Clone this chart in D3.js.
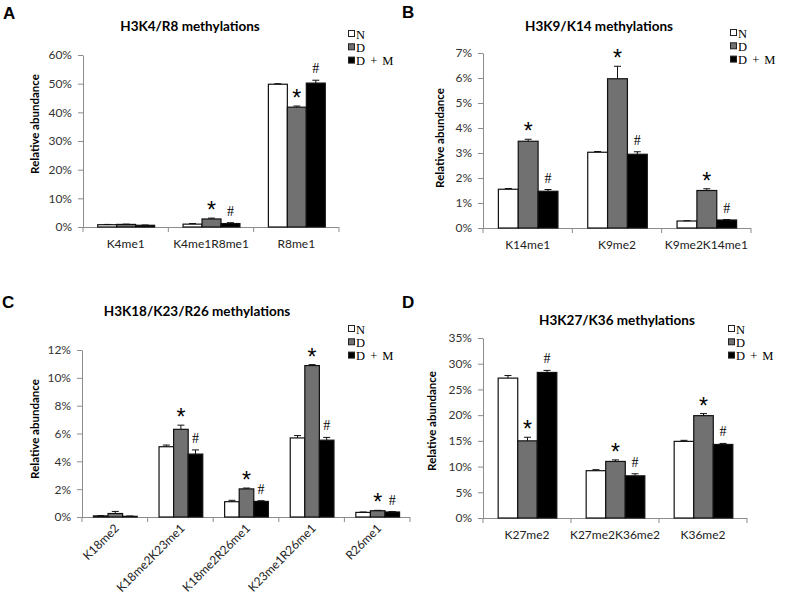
<!DOCTYPE html>
<html>
<head>
<meta charset="utf-8">
<script src="https://cdn.jsdelivr.net/npm/d3@7"></script>
<style>
  html, body { margin: 0; padding: 0; background: #fff; }
  svg { display: block; }
  .tick text { font-family: Lato, "Liberation Sans", sans-serif; font-size: 12px; fill: #333; }
</style>
</head>
<body>
<div id="chart"></div>
<script>
// groups shared by all four panels
const groups = ["N", "D", "D + M"];

// A: H3K4/R8
const catA = ["K4me1", "K4me1R8me1", "R8me1"];
const nA = [0.8, 1.0, 49.8];
const dA = [0.9, 2.8, 41.8];
const dmA = [0.6, 1.2, 50.2];
const nErrA = [0.1, 0.2, 0.2];
const dErrA = [0.1, 0.3, 0.4];
const dmErrA = [0.1, 0.3, 1.0];
const starA = [false, true, true];
const hashA = [false, true, true];
const ticksA = [0, 10, 20, 30, 40, 50, 60];

// B: H3K9/K14
const catB = ["K14me1", "K9me2", "K9me2K14me1"];
const nB = [1.55, 3.03, 0.28];
const dB = [3.47, 5.97, 1.50];
const dmB = [1.47, 2.95, 0.32];
const nErrB = [0.03, 0.03, 0.01];
const dErrB = [0.08, 0.50, 0.07];
const dmErrB = [0.07, 0.10, 0.02];
const starB = [true, true, true];
const hashB = [true, true, true];
const ticksB = [0, 1, 2, 3, 4, 5, 6, 7];

// C: H3K18/K23/R26
const catC = ["K18me2", "K18me2K23me1", "K18me2R26me1", "K23me1R26me1", "R26me1"];
const nC = [0.08, 5.05, 1.10, 5.68, 0.33];
const dC = [0.25, 6.30, 2.02, 10.88, 0.45];
const dmC = [0.05, 4.52, 1.12, 5.52, 0.36];
const nErrC = [0.02, 0.12, 0.10, 0.17, 0.03];
const dErrC = [0.15, 0.30, 0.06, 0.07, 0.03];
const dmErrC = [0.02, 0.30, 0.05, 0.20, 0.03];
const starC = [false, true, true, true, true];
const hashC = [false, true, true, true, true];
const ticksC = [0, 2, 4, 6, 8, 10, 12];

// D: H3K27/K36
const catD = ["K27me2", "K27me2K36me2", "K36me2"];
const nD = [27.2, 9.2, 14.9];
const dD = [15.0, 11.0, 19.9];
const dmD = [28.3, 8.2, 14.3];
const nErrD = [0.5, 0.2, 0.2];
const dErrD = [0.7, 0.3, 0.4];
const dmErrD = [0.4, 0.4, 0.2];
const starD = [true, true, true];
const hashD = [true, true, true];
const ticksD = [0, 5, 10, 15, 20, 25, 30, 35];

const fills = ["#ffffff", "#717171", "#000000"];
const sans = 'Lato, "Liberation Sans", sans-serif';
const serif = '"Liberation Serif", "DejaVu Serif", serif';

// layout for each panel (page pixels)
const panels = [
	{letter: "A", title: "H3K4/R8 methylations", cats: catA, vals: [nA, dA, dmA], errs: [nErrA, dErrA, dmErrA],
	 star: starA, hash: hashA, ticks: ticksA,
	 left: 83, right: 339, top: 55, bottom: 227, lx: 3, ly: 19, tx: 190, ty: 31, ylx: 35, yly: 124,
	 legx: 348, legy: 34, rotate: false},
	{letter: "B", title: "H3K9/K14 methylations", cats: catB, vals: [nB, dB, dmB], errs: [nErrB, dErrB, dmErrB],
	 star: starB, hash: hashB, ticks: ticksB,
	 left: 483, right: 751, top: 53, bottom: 228, lx: 402, ly: 18, tx: 599, ty: 31, ylx: 440, yly: 138,
	 legx: 730, legy: 33, rotate: false},
	{letter: "C", title: "H3K18/K23/R26 methylations", cats: catC, vals: [nC, dC, dmC], errs: [nErrC, dErrC, dmErrC],
	 star: starC, hash: hashC, ticks: ticksC,
	 left: 82, right: 410, top: 350, bottom: 517, lx: 2, ly: 308, tx: 197, ty: 316, ylx: 35, yly: 429,
	 legx: 348, legy: 329, rotate: true},
	{letter: "D", title: "H3K27/K36 methylations", cats: catD, vals: [nD, dD, dmD], errs: [nErrD, dErrD, dmErrD],
	 star: starD, hash: hashD, ticks: ticksD,
	 left: 483, right: 747, top: 338, bottom: 518, lx: 402, ly: 308, tx: 617, ty: 325, ylx: 432, yly: 421,
	 legx: 728, legy: 329, rotate: false}
];

const svg = d3.select("#chart").append("svg")
	.attr("width", 787)
	.attr("height", 597);

panels.forEach(p => {
	const g = svg.append("g");

	const x = d3.scaleBand()
		.domain(p.cats)
		.range([p.left, p.right]);

	const bw = x.bandwidth();
	const xs = d3.scaleBand()
		.domain(groups)
		.range([bw / 6, bw * 5 / 6]);

	const y = d3.scaleLinear()
		.domain([0, d3.max(p.ticks)])
		.range([p.bottom, p.top]);

	// y axis
	const yAxis = g.append("g")
		.attr("transform", `translate(${p.left},0)`)
		.call(d3.axisLeft(y).tickValues(p.ticks).tickFormat(d => d + "%").tickSize(5).tickPadding(6).tickSizeOuter(0));
	yAxis.select(".domain").attr("stroke", "#8c8c8c");
	yAxis.selectAll(".tick line").attr("stroke", "#8c8c8c");

	// x axis: baseline plus ticks at category boundaries
	const bounds = p.cats.map(c => x(c)).concat([p.right]);
	g.append("line")
		.attr("x1", p.left).attr("x2", p.right)
		.attr("y1", p.bottom + 0.5).attr("y2", p.bottom + 0.5)
		.attr("stroke", "#8c8c8c");
	g.selectAll(".xtick")
		.data(bounds)
		.enter()
		.append("line")
		.attr("x1", d => d).attr("x2", d => d)
		.attr("y1", p.bottom).attr("y2", p.bottom + 5)
		.attr("stroke", "#8c8c8c");

	// category labels
	const lab = g.selectAll(".cat")
		.data(p.cats)
		.enter()
		.append("text")
		.style("font-family", sans)
		.attr("fill", "#222")
		.text(d => d);
	if (p.rotate) {
		lab.attr("text-anchor", "end")
			.style("font-size", "12px")
			.attr("transform", d => `translate(${x(d) + bw / 2 + 5},${p.bottom + 12}) rotate(-45)`);
	} else {
		lab.attr("text-anchor", "middle")
			.style("font-size", "12px")
			.attr("x", d => x(d) + bw / 2)
			.attr("y", p.bottom + 21);
	}

	// bars, error bars, marks
	const rows = [];
	p.cats.forEach((c, i) => {
		groups.forEach((s, k) => {
			rows.push({cat: c, grp: s, k: k, v: p.vals[k][i], e: p.errs[k][i],
				mark: k === 1 && p.star[i] ? "*" : (k === 2 && p.hash[i] ? "#" : null)});
		});
	});

	const cell = g.selectAll(".bar")
		.data(rows)
		.enter()
		.append("g")
		.attr("transform", d => `translate(${x(d.cat) + xs(d.grp)},0)`);

	cell.append("rect")
		.attr("x", 0.5)
		.attr("y", d => y(d.v))
		.attr("width", xs.bandwidth())
		.attr("height", d => p.bottom - y(d.v))
		.attr("fill", d => fills[d.k])
		.attr("stroke", "#111")
		.attr("stroke-width", 1.2);

	const cx = xs.bandwidth() / 2 + 0.5;
	cell.append("line")
		.attr("x1", cx).attr("x2", cx)
		.attr("y1", d => y(d.v))
		.attr("y2", d => y(d.v + d.e))
		.attr("stroke", "#111");
	cell.append("line")
		.attr("x1", cx - 3.5).attr("x2", cx + 3.5)
		.attr("y1", d => y(d.v + d.e))
		.attr("y2", d => y(d.v + d.e))
		.attr("stroke", "#111");

	cell.filter(d => d.mark)
		.append("text")
		.attr("x", cx)
		.attr("y", d => y(d.v + d.e) - (d.mark === "*" ? 0 : 7))
		.attr("text-anchor", "middle")
		.style("font-family", d => d.mark === "*" ? '"Liberation Sans", sans-serif' : serif)
		.style("font-size", d => d.mark === "*" ? "23px" : "14px")
		.attr("fill", "#000")
		.text(d => d.mark);

	// panel letter and title
	g.append("text")
		.attr("x", p.lx).attr("y", p.ly)
		.style("font-family", '"Liberation Sans", sans-serif')
		.style("font-weight", "bold")
		.style("font-size", "17px")
		.text(p.letter);
	g.append("text")
		.attr("x", p.tx).attr("y", p.ty)
		.attr("text-anchor", "middle")
		.style("font-family", sans)
		.style("font-weight", "bold")
		.style("font-size", "13.5px")
		.text(p.title);

	// y label
	g.append("text")
		.attr("transform", `translate(${p.ylx + 4},${p.yly}) rotate(-90)`)
		.attr("text-anchor", "middle")
		.style("font-family", sans)
		.style("font-weight", "bold")
		.style("font-size", "11.5px")
		.text("Relative abundance");

	// legend
	const leg = g.selectAll(".leg")
		.data(groups)
		.enter()
		.append("g")
		.attr("transform", (d, i) => `translate(${p.legx},${p.legy + i * 13.3})`);
	leg.append("rect")
		.attr("x", 0.5).attr("y", -3.5)
		.attr("width", 6).attr("height", 6)
		.attr("fill", (d, i) => fills[i])
		.attr("stroke", "#222");
	leg.append("text")
		.attr("x", 8).attr("y", 4.5)
		.style("font-family", serif)
		.style("font-size", "12.5px")
		.style("word-spacing", "2px")
		.text(d => d);
});
</script>
</body>
</html>
